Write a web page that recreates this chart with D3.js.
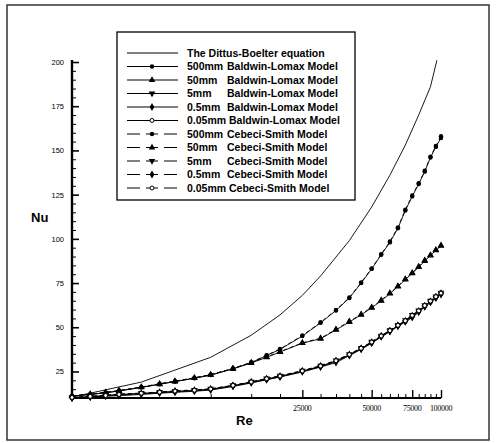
<!DOCTYPE html>
<html><head><meta charset="utf-8">
<script src="https://cdnjs.cloudflare.com/ajax/libs/d3/7.8.5/d3.min.js"></script>
<style>body{margin:0;background:#fff}svg{display:block}</style>
</head><body><svg id="c" width="496" height="443"></svg>
<script>
// ---- data ----
const reValues = [2500,3000,3500,4000,5000,6000,7000,8500,10000,12500,15000,17500,20000,25000,30000,35000,40000,45000,50000,55000,60000,65000,70000,75000,80000,85000,90000,95000,100000];
const dittusRe = [2500,5000,10000,15000,20000,25000,30000,40000,50000,60000,70000,80000,90000,96000];
const dittusNu = [10.5,19,33,45.5,57,68,79,99,118,136,153,170,186,201];
const bl500 = [11,12,13,14,16,17.8,19.3,21.2,23,26.5,30,34,37.5,45,52.5,59.5,66.5,75,83,91,98,106,116,124,131,138,146,152,157];
const bl50  = [11,12,13,14,16,17.8,19.3,21.2,23,26.5,29.8,33,36,41,43.5,48.5,53,57,61,65,69,73,77,80.5,84,87.5,90.5,93.5,96];
const bl5   = [10,10.5,11,11.3,12,12.7,13.2,13.8,14.5,16.5,18.5,20.3,21.9,24.7,27.5,30,34,37.5,41,44.5,47.5,50.5,53,55.5,58.5,61.5,64,66.5,68.5];
const bl05  = [10.2,10.8,11.5,12,12.6,13.2,13.8,14.3,15,17,19,20.8,22.3,25.2,28,31,34.5,38,41.5,45,48,51,53.5,56.5,59,62,64.5,67,69];
const bl005 = [10,10.6,11.2,11.8,12.4,13,13.5,14,14.8,16.8,18.8,20.5,22,25,27.8,30.6,34.2,37.8,41.2,44.8,47.8,50.8,53.3,56,58.8,61.8,64.3,66.8,68.8];
const cs500 = [11.2,12.2,13.2,14.2,16.2,18,19.5,21.4,23.2,26.7,30.2,34.2,37.7,45.3,52.8,59.8,66.8,75.3,83.3,91.3,98.5,106.5,116.5,124.5,131.5,138.5,146.5,152.5,158];
const cs50  = [11.2,12.2,13.2,14.2,16.2,18,19.5,21.4,23.2,26.7,30,33.2,36.2,41.2,43.8,48.8,53.3,57.3,61.3,65.3,69.3,73.3,77.3,80.8,84.3,87.8,90.8,93.8,96.3];
const cs5   = [10.4,11,11.6,12.2,12.8,13.4,14,14.6,15.2,17.2,19.2,21,22.6,25.5,28.3,31.3,34.8,38.3,41.8,45.3,48.3,51.3,54,57,59.5,62.5,65,67.5,69.5];
const cs05  = [10.1,10.7,11.3,11.9,12.5,13.1,13.7,14.2,14.9,16.9,18.9,20.6,22.1,25.1,27.9,30.8,34.3,37.9,41.3,44.9,47.9,50.9,53.4,56.2,59,62,64.5,67,69];
const cs005 = [10.3,10.9,11.4,12,12.7,13.3,13.9,14.4,15.1,17.1,19.1,20.9,22.4,25.3,28.1,31.1,34.6,38.1,41.6,45.1,48.1,51.1,53.7,56.7,59.3,62.3,64.8,67.3,69.3];

const seriesNames = ["500mm","50mm","5mm","0.5mm","0.05mm","500mm","50mm","5mm","0.5mm","0.05mm"];
const seriesModels = ["Baldwin-Lomax Model","Baldwin-Lomax Model","Baldwin-Lomax Model","Baldwin-Lomax Model","Baldwin-Lomax Model","Cebeci-Smith Model","Cebeci-Smith Model","Cebeci-Smith Model","Cebeci-Smith Model","Cebeci-Smith Model"];
const seriesValues = [bl500,bl50,bl5,bl05,bl005,cs500,cs50,cs5,cs05,cs005];
const seriesMarkers = ["circle","triangle","triangleDown","diamond","openCircle","circle","triangle","triangleDown","diamond","openCircle"];
const seriesDashed = [false,false,false,false,false,true,true,true,true,true];
const dittusLabel = "The Dittus-Boelter equation";

const yTicks = [25,50,75,100,125,150,175,200];
const yMinor = d3.range(10,201,5);
const xTickLabels = [25000,50000,75000,100000];
const xMinor = d3.range(10000,100001,5000);

// ---- layout ----
const svg = d3.select("#c");
const x = d3.scaleLog().domain([2500,100000]).range([72,441]);
const y = d3.scaleLinear().domain([10,200]).range([398,62]);

// outer frame
svg.append("rect").attr("x",7).attr("y",5).attr("width",482).attr("height",435)
  .attr("fill","none").attr("stroke","#333").attr("stroke-width",1.5);

// axes
const yAxis = d3.axisRight(y).tickValues(yTicks).tickSize(7).tickFormat("");
const gy = svg.append("g").attr("transform","translate(72,0)").call(yAxis);
gy.select(".domain").remove();
gy.selectAll(".tick line").attr("stroke-width",1.6);
const yAxisMinor = d3.axisRight(y).tickValues(yMinor.filter(v=>v%25!==0)).tickSize(4).tickFormat("");
const gym = svg.append("g").attr("transform","translate(72,0)").call(yAxisMinor);
gym.select(".domain").remove();
gym.selectAll(".tick line").attr("stroke-width",1);
svg.append("line").attr("x1",72).attr("x2",72).attr("y1",y(200)-2).attr("y2",y(10)+1).attr("stroke","#000").attr("stroke-width",2.4);
svg.append("g").selectAll("text").data(yTicks).join("text")
  .attr("x",64).attr("y",d=>y(d)+3).attr("text-anchor","end")
  .attr("font-family","Liberation Sans, Arial, sans-serif").attr("font-size",7.5).text(d=>d);

const xAxis = d3.axisTop(x).tickValues(xTickLabels).tickSize(8).tickFormat("");
const gx = svg.append("g").attr("transform","translate(0,398)").call(xAxis);
gx.select(".domain").remove();
gx.selectAll(".tick line").attr("stroke-width",1.4);
const xAxisMinor = d3.axisTop(x).tickValues(xMinor.filter(v=>v%25000!==0)).tickSize(4).tickFormat("");
const gxm = svg.append("g").attr("transform","translate(0,398)").call(xAxisMinor);
gxm.select(".domain").remove();
svg.append("line").attr("x1",71).attr("x2",x(100000)).attr("y1",398).attr("y2",398).attr("stroke","#000").attr("stroke-width",2);
svg.append("g").selectAll("text").data(xTickLabels).join("text")
  .attr("x",d=>x(d)).attr("y",411).attr("text-anchor","middle")
  .attr("font-family","Liberation Serif, serif").attr("font-size",8).attr("letter-spacing","-0.3").text(d=>d);

svg.append("text").attr("x",31).attr("y",222).attr("font-family","Liberation Sans, Arial, sans-serif")
  .attr("font-weight","bold").attr("font-size",13).text("Nu");
svg.append("text").attr("x",236).attr("y",425).attr("font-family","Liberation Sans, Arial, sans-serif")
  .attr("font-weight","bold").attr("font-size",13).text("Re");

// markers
function drawMarker(g, type, cx, cy, r){
  r = r||2.2;
  if(type==="circle") g.append("circle").attr("cx",cx).attr("cy",cy).attr("r",r).attr("fill","#000");
  else if(type==="openCircle") g.append("circle").attr("cx",cx).attr("cy",cy).attr("r",r*0.9).attr("fill","#fff").attr("stroke","#000").attr("stroke-width",1);
  else {
    const sym = type==="diamond"? d3.symbolDiamond : d3.symbolTriangle;
    g.append("path").attr("d",d3.symbol().type(sym).size(r*r*4)())
      .attr("transform",`translate(${cx},${cy})`+(type==="triangleDown"?" rotate(180)":"")).attr("fill","#000");
  }
}

const line = d3.line().x(d=>x(d[0])).y(d=>y(d[1]));
const plot = svg.append("g");
plot.append("path").attr("d",line(dittusRe.map((r,i)=>[r,dittusNu[i]]))).attr("fill","none").attr("stroke","#000").attr("stroke-width",0.9);
seriesValues.forEach((vals,k)=>{
  const pts = reValues.map((r,i)=>[r,vals[i]]);
  plot.append("path").attr("d",line(pts)).attr("fill","none").attr("stroke","#000").attr("stroke-width",0.9)
    .attr("stroke-dasharray",seriesDashed[k]?"4,3":null);
  const g = plot.append("g");
  pts.forEach(p=>drawMarker(g,seriesMarkers[k],x(p[0]),y(p[1])));
});

// legend
const lg = svg.append("g");
lg.append("rect").attr("x",117).attr("y",32).attr("width",238).attr("height",168)
  .attr("fill","#fff").attr("stroke","#000").attr("stroke-width",1.3);
const rowY = i=>53+i*13.5;
const font = "Liberation Sans, Arial, sans-serif";
lg.append("line").attr("x1",127).attr("x2",178).attr("y1",rowY(0)).attr("y2",rowY(0)).attr("stroke","#000").attr("stroke-width",1);
lg.append("text").attr("x",187).attr("y",rowY(0)+3.5).attr("font-family",font).attr("font-weight","bold").attr("font-size",10.5).text(dittusLabel);
seriesNames.forEach((n,k)=>{
  const yy = rowY(k+1);
  if(seriesDashed[k]){
    lg.append("line").attr("x1",127).attr("x2",140).attr("y1",yy).attr("y2",yy).attr("stroke","#000");
    lg.append("line").attr("x1",146).attr("x2",158).attr("y1",yy).attr("y2",yy).attr("stroke","#000");
    lg.append("line").attr("x1",164).attr("x2",177).attr("y1",yy).attr("y2",yy).attr("stroke","#000");
  } else {
    lg.append("line").attr("x1",127).attr("x2",178).attr("y1",yy).attr("y2",yy).attr("stroke","#000").attr("stroke-width",1);
  }
  drawMarker(lg,seriesMarkers[k],152,yy,2.2);
  const t = lg.append("text").attr("y",yy+3.5).attr("font-family",font).attr("font-weight","bold").attr("font-size",10.5);
  t.append("tspan").attr("x",187).text(n);
  t.append("tspan").attr("x",n==="0.05mm"?229:227).text(seriesModels[k]);
});
</script></body></html>
